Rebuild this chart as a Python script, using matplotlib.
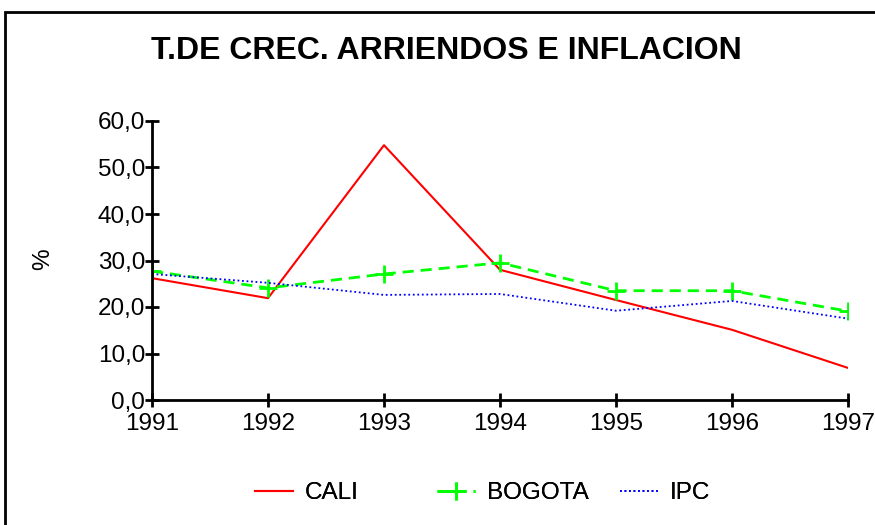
import matplotlib
matplotlib.use("Agg")
import matplotlib.pyplot as plt
from matplotlib.patches import Rectangle
from matplotlib.ticker import FuncFormatter
from matplotlib import font_manager

years = [1991, 1992, 1993, 1994, 1995, 1996, 1997]
cali = [26.2, 21.9, 54.8, 28.0, 21.5, 15.1, 6.9]
bogota = [27.7, 24.1, 27.1, 29.5, 23.5, 23.5, 19.1]
ipc = [27.1, 25.2, 22.6, 22.8, 19.2, 21.3, 17.5]
title = "T.DE CREC. ARRIENDOS E INFLACION"

names = {f.name for f in font_manager.fontManager.ttflist}
base = "Liberation Sans" if "Liberation Sans" in names else "DejaVu Sans"
plt.rcParams['font.family'] = [base]
FS = 17.5

fig = plt.figure(figsize=(8.75, 5.25), dpi=100)
fig.patches.append(Rectangle((5/875, -0.1), 1.2, 1 - 12/525 + 0.1, transform=fig.transFigure,
                             fill=False, edgecolor='black', linewidth=2))
ax = fig.add_axes([152/875, 1 - 400/525, (848 - 152)/875, (400 - 121)/525])

l1, = ax.plot(years, cali, color='#ff0000', lw=1.5, label='CALI')
l2, = ax.plot(years, bogota, color='#00ff00', lw=2, ls=(0, (4, 2.5)), marker='+', ms=13, mew=2, label='BOGOTA')
l3, = ax.plot(years, ipc, color='#0000ff', lw=1.3, ls=(0, (1, 1.5)), label='IPC')

ax.set_xlim(1991, 1997)
ax.set_ylim(0, 60)
ax.set_xticks(years)
ax.set_yticks(range(0, 61, 10))
ax.yaxis.set_major_formatter(FuncFormatter(lambda v, p: f"{v:.1f}".replace('.', ',')))
for s in ['top', 'right']:
    ax.spines[s].set_visible(False)
for s in ['left', 'bottom']:
    ax.spines[s].set_linewidth(2)
ax.tick_params(axis='both', direction='inout', length=10, width=2, labelsize=FS)
ax.tick_params(axis='x', pad=4)
ax.tick_params(axis='y', pad=0)

fig.text(43/875, 1 - 259/525, '%', rotation=90, ha='center', va='center', fontsize=FS)
fig.text(446/875, 1 - 51/525, title, ha='center', va='center', fontsize=23, fontweight='bold')

for line, xpos in [(l1, 255), (l2, 437), (l3, 620)]:
    lg = fig.legend([line], [line.get_label()], loc='center left',
                    bbox_to_anchor=(xpos/875, 1 - 493/525), frameon=False, fontsize=FS,
                    handlelength=1.55, handletextpad=0.5, borderpad=0, borderaxespad=0)
    fig.add_artist(lg)

fig.savefig('out.png', dpi=100)
